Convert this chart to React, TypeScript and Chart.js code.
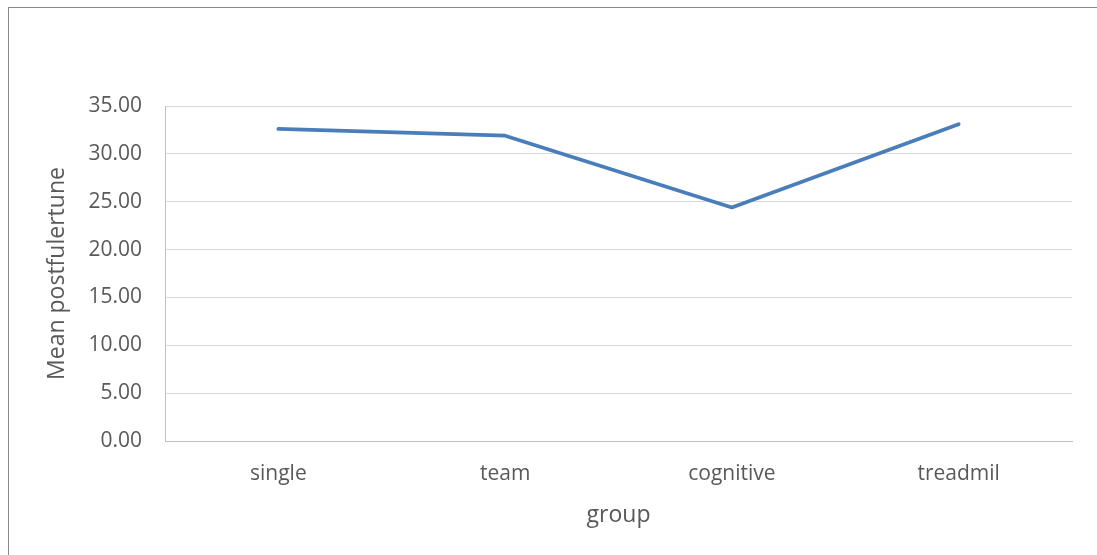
import React, { useEffect, useRef } from "react";
import { Chart, registerables } from "chart.js";

Chart.register(...registerables);

const categories = ["single", "team", "cognitive", "treadmil"];
const meanValues = [32.6, 31.9, 24.4, 33.1];
const yTicks = { min: 0, max: 35, step: 5 };
const yTitle = "Mean postfulertune";
const xTitle = "group";

const FONT = "'Open Sans', 'Noto Sans', sans-serif";
const TEXT = "#595959";

export default function App() {
  const ref = useRef<HTMLCanvasElement | null>(null);

  useEffect(() => {
    if (!ref.current) return;
    const chart = new Chart(ref.current, {
      type: "line",
      data: {
        labels: categories,
        datasets: [
          {
            data: meanValues,
            borderColor: "#4a7ebb",
            backgroundColor: "#4a7ebb",
            borderWidth: 3.75,
            pointRadius: 0,
            borderCapStyle: "round",
            borderJoinStyle: "round",
            tension: 0,
          },
        ],
      },
      options: {
        responsive: false,
        animation: false,
        layout: { padding: { top: 106, left: 0, right: 25, bottom: 0 } },
        plugins: { legend: { display: false }, tooltip: { enabled: false } },
        scales: {
          x: {
            offset: true,
            grid: { display: false, drawTicks: false },
            border: { display: true, color: "#bfbfbf", width: 1 },
            ticks: { color: TEXT, font: { family: FONT, size: 21 }, padding: 20 },
            title: {
              display: true,
              text: xTitle,
              color: TEXT,
              font: { family: FONT, size: 23 },
              padding: { top: 0, bottom: 26 },
            },
            afterFit: (s: any) => {
              s.height = 114;
            },
          },
          y: {
            min: yTicks.min,
            max: yTicks.max,
            grid: { color: "#d9d9d9", lineWidth: 1, drawTicks: false },
            border: { display: true, color: "#bfbfbf", width: 1 },
            ticks: {
              stepSize: yTicks.step,
              color: TEXT,
              font: { family: FONT, size: 21 },
              padding: 23,
              callback: (v: any) => Number(v).toFixed(2),
            },
            title: {
              display: true,
              text: yTitle,
              color: TEXT,
              font: { family: FONT, size: 23 },
              padding: { top: 44, bottom: 0 },
            },
            afterFit: (s: any) => {
              s.width = 165;
            },
          },
        },
      },
    });
    return () => chart.destroy();
  }, []);

  return (
    <div
      style={{
        position: "fixed",
        left: 0,
        top: 0,
        width: 1097,
        height: 555,
        background: "#fff",
        overflow: "hidden",
      }}
    >
      <div
        style={{
          position: "absolute",
          left: 8,
          top: 7,
          width: 1200,
          height: 700,
          borderLeft: "1px solid #8a8a8a",
          borderTop: "1px solid #8a8a8a",
        }}
      />
      <canvas
        ref={ref}
        width={1097}
        height={555}
        style={{ position: "absolute", left: 0, top: 0, display: "block" }}
      />
    </div>
  );
}
